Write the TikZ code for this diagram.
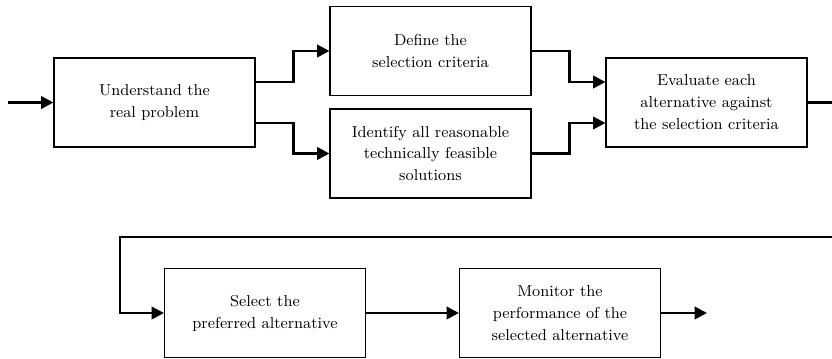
\documentclass[tikz,border=0pt]{standalone}
\usetikzlibrary{arrows.meta}

\tikzset{
    stagebox/.style={draw, line width=0.6pt, minimum width=4.02cm, minimum height=1.78cm,
        align=center, inner sep=2pt, font=\fontsize{9}{12.5}\selectfont},
    flow/.style={line width=1.5pt, -{Triangle[length=7pt,width=7pt]}},
    plain/.style={line width=1.5pt}
}

\begin{document}
\begin{tikzpicture}[x=0.2cm, y=0.2cm]
    \useasboundingbox (0,0) rectangle (83.2,35.8);

    % Stage nodes
    \path
    (15.45, 25.55) node[stagebox] (understand) {Understand the\\real problem}
    (43.05, 30.7) node[stagebox] (define) {Define the\\selection criteria}
    (43.05, 20.45) node[stagebox] (identify) {Identify all reasonable\\technically feasible\\solutions}
    (70.65, 25.55) node[stagebox] (evaluate) {Evaluate each\\alternative against\\the selection criteria}
    (26.5, 4.5) node[stagebox] (select) {Select the\\preferred alternative}
    (56.0, 4.5) node[stagebox] (monitor) {Monitor the\\performance of the\\selected alternative}
    ;

    % Free ends
    \coordinate (start) at (0.8, 25.55);
    \coordinate (edgeout) at (83.2, 25.55);
    \coordinate (edgein) at (83.2, 12.1);
    \coordinate (finish) at (70.7, 4.5);

    % Top row
    \draw[flow] (start) -- (understand);
    \draw[flow] ([yshift=0.41cm]understand.east) -- ++(3.8,0) |- (define.west);
    \draw[flow] ([yshift=-0.41cm]understand.east) -- ++(3.8,0) |- (identify.west);
    \draw[flow] (define.east) -- ++(3.8,0) |- ([yshift=0.41cm]evaluate.west);
    \draw[flow] (identify.east) -- ++(3.8,0) |- ([yshift=-0.41cm]evaluate.west);
    \draw[plain] (evaluate.east) -- (edgeout);

    % Bottom row
    \draw[flow] (edgein) -| ([xshift=-0.88cm]select.west) -- (select.west);
    \draw[flow] (select) -- (monitor);
    \draw[flow] (monitor) -- (finish);

\end{tikzpicture}
\end{document}
